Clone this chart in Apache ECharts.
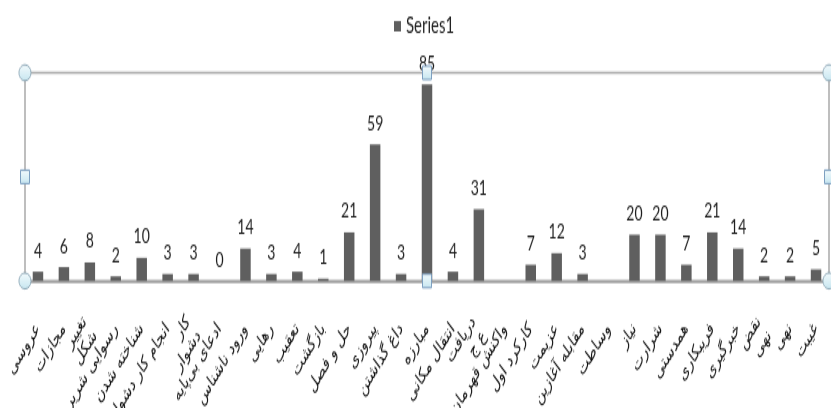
<!DOCTYPE html>
<html>
<head>
<meta charset="utf-8">
<script src="https://cdn.jsdelivr.net/npm/echarts@6/dist/echarts.min.js"></script>
<style>
  html, body { margin: 0; padding: 0; background: #fff; width: 831px; height: 408px; }
  #wrap { position: relative; width: 831px; height: 408px; overflow: hidden; }
  /* the chart is laid out at 831x272 and stretched vertically to 408 */
  #chart { position: absolute; left: 0; top: 0; width: 831px; height: 272px;
           transform: scale(1, 1.5); transform-origin: 0 0; }
</style>
</head>
<body>
<div id="wrap"><div id="chart"></div></div>
<script>
// Category labels, left to right
const categories = [
  'عروسی', 'مجازات', 'تغییر\nشکل', 'رسوایی شریر', 'شناخته شدن', 'انجام کار دشوار',
  'کار\nدشوار', 'ادعای بی‌پایه', 'ورود ناشناس', 'رهایی', 'تعقیب', 'بازگشت',
  'حل و فصل', 'پیروزی', 'داغ گذاشتن', 'مبارزه', 'انتقال مکانی', 'دریافت\nع ج',
  'واکنش قهرمان', 'کارکرد اول', 'عزیمت', 'مقابله آغازین', 'وساطت', 'نیاز',
  'شرارت', 'همدستی', 'فریبکاری', 'خبرگیری', 'نقض\nنهی', 'نهی', 'غیبت'
];

// Series1 values (null = empty cell, no bar)
const values = [
  4, 6, 8, 2, 10, 3,
  3, 0, 14, 3, 4, 1,
  21, 59, 3, 85, 4, 31,
  null, 7, 12, 3, null, 20,
  20, 7, 21, 14, 2, 2, 5
];

const seriesName = 'Series1';
const valueMax = 90;

const W = 831, H = 272;
const gridBox = { left: 25, right: 2, top: 48.5, bottom: 84.7 };

// frame handles around the plot area
const x0 = gridBox.left, x1 = W - gridBox.right;
const y0 = gridBox.top, y1 = H - gridBox.bottom;
const xm = (x0 + x1) / 2, ym = (y0 + y1) / 2;
const handleFill = new echarts.graphic.LinearGradient(0, 0, 0, 1, [
  { offset: 0, color: '#f4fbfd' }, { offset: 1, color: '#c6e6f0' }
]);
const handleStroke = '#8fa9b8';
function circleHandle(cx, cy) {
  return { type: 'ellipse', shape: { cx, cy, rx: 6, ry: 5.3 },
           style: { fill: handleFill, stroke: handleStroke, lineWidth: 1 }, z: 100 };
}
function squareHandle(cx, cy) {
  return { type: 'rect', shape: { x: cx - 4.5, y: cy - 4.5, width: 9, height: 9 },
           style: { fill: handleFill, stroke: '#7d9fc0', lineWidth: 1 }, z: 100 };
}

const chart = echarts.init(document.getElementById('chart'), null,
  { renderer: 'canvas', width: W, height: H });
chart.setOption({
  animation: false,
  backgroundColor: '#fff',
  legend: {
    data: [seriesName],
    top: 5,
    left: 389,
    icon: 'rect',
    itemWidth: 7,
    itemHeight: 7,
    itemGap: 5,
    textStyle: { fontFamily: 'Lato', fontSize: 15, color: '#222' }
  },
  grid: {
    left: gridBox.left, right: gridBox.right, top: gridBox.top, bottom: gridBox.bottom,
    show: true, borderColor: '#a9a9a9', borderWidth: 1.5,
    containLabel: false, outerBoundsMode: 'none'
  },
  xAxis: {
    type: 'category',
    data: categories,
    axisLine: { lineStyle: { color: '#a0a0a0', width: 1.5 } },
    axisTick: { show: false },
    axisLabel: {
      interval: 0,
      rotate: 48,
      margin: 30,
      fontFamily: 'DejaVu Sans',
      fontSize: 12.5,
      color: '#111',
      lineHeight: 14
    }
  },
  yAxis: {
    type: 'value',
    min: 0,
    max: valueMax,
    interval: 10,
    show: false,
    splitLine: { show: false }
  },
  series: [{
    name: seriesName,
    type: 'bar',
    data: values,
    barWidth: 10.5,
    itemStyle: { color: '#5f5f5f' },
    label: {
      show: true,
      position: 'top',
      distance: 7,
      fontFamily: 'Lato',
      fontSize: 14,
      color: '#1e1e1e'
    }
  }],
  graphic: [
    circleHandle(x0, y0), squareHandle(xm, y0), circleHandle(x1, y0),
    squareHandle(x0, ym), squareHandle(x1, ym),
    circleHandle(x0, y1), squareHandle(xm, y1), circleHandle(x1, y1)
  ]
});
</script>
</body>
</html>
